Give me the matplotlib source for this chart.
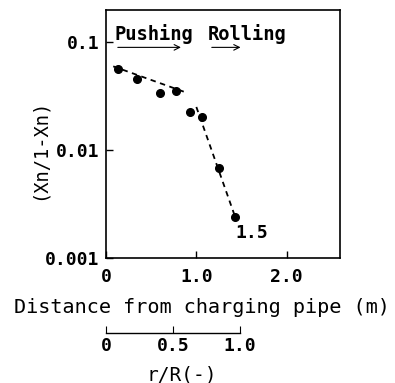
import matplotlib
matplotlib.use("Agg")
import matplotlib.pyplot as plt
from matplotlib.ticker import NullLocator, FixedLocator, FixedFormatter

plt.rcParams['font.family'] = ['DejaVu Sans Mono']
plt.rcParams['font.weight'] = 'bold'

# data
dist = [0.13, 0.34, 0.60, 0.78, 0.93, 1.06, 1.25, 1.43]
ratio = [0.057, 0.046, 0.034, 0.0356, 0.0227, 0.0203, 0.0069, 0.0024]
fit1_x = [0.08, 0.90]
fit1_y = [0.060, 0.034]
fit2_x = [1.00, 1.43]
fit2_y = [0.0252, 0.0024]
xticks = [0, 1.0, 2.0]
xticklabels = ["0", "1.0", "2.0"]
yticks = [0.001, 0.01, 0.1]
yticklabels = ["0.001", "0.01", "0.1"]
rr_ticks = [0, 0.5, 1.0]
rr_labels = ["0", "0.5", "1.0"]

fig = plt.figure(figsize=(3.95, 3.83), dpi=100)
ax = fig.add_axes([106/395, 1-258/383, (340-106)/395, (258-10)/383])
ax.set_yscale('log')
ax.set_xlim(0, 2.59)
ax.set_ylim(0.001, 0.2)
ax.plot(dist, ratio, 'o', color='black', ms=5.5)
ax.plot(fit1_x, fit1_y, '--', color='black', lw=1.3, dashes=(3, 2.5))
ax.plot(fit2_x, fit2_y, '--', color='black', lw=1.3, dashes=(3, 2.5))

ax.xaxis.set_major_locator(FixedLocator(xticks))
ax.xaxis.set_major_formatter(FixedFormatter(xticklabels))
ax.yaxis.set_major_locator(FixedLocator(yticks))
ax.yaxis.set_major_formatter(FixedFormatter(yticklabels))
ax.xaxis.set_minor_locator(NullLocator())
ax.yaxis.set_minor_locator(NullLocator())
ax.tick_params(direction='in', length=5, width=1, labelsize=13)
ax.tick_params(axis='y', pad=5)
ax.tick_params(axis='x', pad=7)
for s in ax.spines.values():
    s.set_linewidth(1.2)

ax.set_ylabel("(Xn/1-Xn)", fontsize=13.5)
ax.yaxis.set_label_coords(-0.286, 0.44)
ax.set_xlabel("Distance from charging pipe (m)", fontsize=14.5)
ax.xaxis.set_label_coords(0.41, -0.198)
ax.xaxis.label.set_va('center')
ax.yaxis.label.set_va('center')

ax.text(0.09, 0.121, "Pushing", fontsize=13.5, va='center', ha='left')
ax.text(1.13, 0.121, "Rolling", fontsize=13.5, va='center', ha='left')
ax.annotate("", xy=(0.86, 0.09), xytext=(0.1, 0.09),
            arrowprops=dict(arrowstyle='->', lw=0.8, color='black'))
ax.annotate("", xy=(1.52, 0.09), xytext=(1.14, 0.09),
            arrowprops=dict(arrowstyle='->', lw=0.8, color='black'))
ax.text(1.43, 0.0017, "1.5", fontsize=13, va='center', ha='left')

ax2 = fig.add_axes([106/395, 1-333/383, (240-106)/395, 0.001])
ax2.set_xlim(0, 1.0)
for k in ['top', 'left', 'right']:
    ax2.spines[k].set_visible(False)
ax2.spines['bottom'].set_linewidth(1.0)
ax2.set_yticks([])
ax2.xaxis.set_major_locator(FixedLocator(rr_ticks))
ax2.xaxis.set_major_formatter(FixedFormatter(rr_labels))
ax2.tick_params(axis='x', direction='in', length=5, labelsize=13, pad=3)
ax2.set_xlabel("r/R(-)", fontsize=14)
ax2.xaxis.set_label_coords(0.57, 0, transform=None)
ax2.xaxis.label.set_position((0.57, 0))
ax2.xaxis.set_label_coords(0.57, -42/1.0, transform=ax2.transAxes)
ax2.patch.set_visible(False)

fig.canvas.draw()
# place r/R label in figure pixel coordinates
ax2.xaxis.label.set_transform(fig.transFigure)
ax2.xaxis.label.set_position((182/395, 1-375/383))
ax2.xaxis.label.set_va('center')

fig.savefig("out.png", dpi=100)
